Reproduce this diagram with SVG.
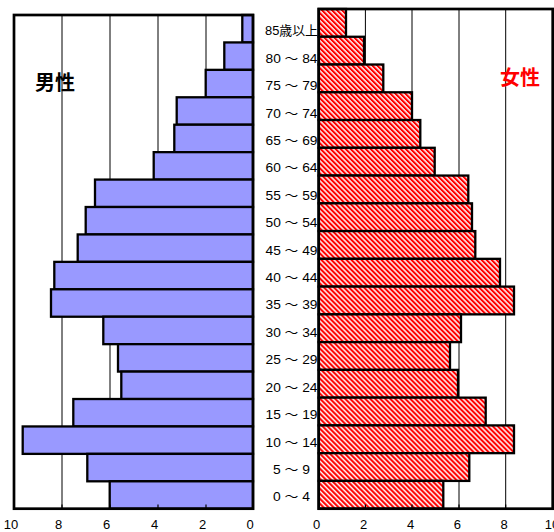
<svg xmlns="http://www.w3.org/2000/svg" width="554" height="532" viewBox="0 0 554 532">
<defs>
<pattern id="stripe" patternUnits="userSpaceOnUse" width="3.54" height="3.54" patternTransform="rotate(-45)">
<rect width="3.54" height="3.54" fill="#fff"/>
<rect width="2.1" height="3.54" fill="#f00"/>
</pattern>
</defs>
<style>
.frame{fill:none;stroke:#000;stroke-width:2.7}
.grid{stroke:#000;stroke-width:1}
.tick{stroke:#000;stroke-width:1.2}
.m{fill:#9999ff;stroke:#000;stroke-width:2.3}
.f{fill:url(#stripe);stroke:#000;stroke-width:2.3}
.lab{font-family:"Liberation Sans","Noto Sans CJK JP",sans-serif;font-size:13px;fill:#000;text-anchor:middle}
.ttl{font-family:"Noto Sans CJK JP",sans-serif;font-size:20px;font-weight:bold;text-anchor:middle}
</style>
<rect width="554" height="532" fill="#fff"/>
<g id="grid">
<line class="grid" x1="62" y1="15" x2="62" y2="508.7"/>
<line class="grid" x1="110" y1="15" x2="110" y2="508.7"/>
<line class="grid" x1="158" y1="15" x2="158" y2="508.7"/>
<line class="grid" x1="206" y1="15" x2="206" y2="508.7"/>
<line class="grid" x1="365.4" y1="9" x2="365.4" y2="508.7"/>
<line class="grid" x1="412" y1="9" x2="412" y2="508.7"/>
<line class="grid" x1="459" y1="9" x2="459" y2="508.7"/>
<line class="grid" x1="505.7" y1="9" x2="505.7" y2="508.7"/>
</g>
<g id="age-labels" class="lab">
<text x="291.5" y="35.2" textLength="53" lengthAdjust="spacingAndGlyphs">85歳以上</text>
<text x="291.5" y="62.6" textLength="52" lengthAdjust="spacingAndGlyphs">80 ～ 84</text>
<text x="291.5" y="90.0" textLength="52" lengthAdjust="spacingAndGlyphs">75 ～ 79</text>
<text x="291.5" y="117.5" textLength="52" lengthAdjust="spacingAndGlyphs">70 ～ 74</text>
<text x="291.5" y="144.9" textLength="52" lengthAdjust="spacingAndGlyphs">65 ～ 69</text>
<text x="291.5" y="172.3" textLength="52" lengthAdjust="spacingAndGlyphs">60 ～ 64</text>
<text x="291.5" y="199.7" textLength="52" lengthAdjust="spacingAndGlyphs">55 ～ 59</text>
<text x="291.5" y="227.1" textLength="52" lengthAdjust="spacingAndGlyphs">50 ～ 54</text>
<text x="291.5" y="254.5" textLength="52" lengthAdjust="spacingAndGlyphs">45 ～ 49</text>
<text x="291.5" y="282.0" textLength="52" lengthAdjust="spacingAndGlyphs">40 ～ 44</text>
<text x="291.5" y="309.4" textLength="52" lengthAdjust="spacingAndGlyphs">35 ～ 39</text>
<text x="291.5" y="336.8" textLength="52" lengthAdjust="spacingAndGlyphs">30 ～ 34</text>
<text x="291.5" y="364.2" textLength="52" lengthAdjust="spacingAndGlyphs">25 ～ 29</text>
<text x="291.5" y="391.6" textLength="52" lengthAdjust="spacingAndGlyphs">20 ～ 24</text>
<text x="291.5" y="419.1" textLength="52" lengthAdjust="spacingAndGlyphs">15 ～ 19</text>
<text x="291.5" y="446.5" textLength="52" lengthAdjust="spacingAndGlyphs">10 ～ 14</text>
<text x="291.5" y="473.9" textLength="37" lengthAdjust="spacingAndGlyphs">5 ～ 9</text>
<text x="291.5" y="501.3" textLength="37" lengthAdjust="spacingAndGlyphs">0 ～ 4</text>
</g>
<g id="male-bars">
<rect class="m" x="242.3" y="15" width="10.7" height="27.43"/>
<rect class="m" x="224.3" y="42.43" width="28.7" height="27.43"/>
<rect class="m" x="205.7" y="69.86" width="47.3" height="27.43"/>
<rect class="m" x="176.7" y="97.29" width="76.3" height="27.43"/>
<rect class="m" x="174.3" y="124.72" width="78.7" height="27.43"/>
<rect class="m" x="153.7" y="152.15" width="99.3" height="27.43"/>
<rect class="m" x="95" y="179.58" width="158" height="27.43"/>
<rect class="m" x="85.7" y="207.01" width="167.3" height="27.43"/>
<rect class="m" x="77.7" y="234.44" width="175.3" height="27.43"/>
<rect class="m" x="54.3" y="261.87" width="198.7" height="27.43"/>
<rect class="m" x="51" y="289.3" width="202" height="27.43"/>
<rect class="m" x="103.3" y="316.73" width="149.7" height="27.43"/>
<rect class="m" x="118" y="344.16" width="135" height="27.43"/>
<rect class="m" x="121.3" y="371.59" width="131.7" height="27.43"/>
<rect class="m" x="73.3" y="399.02" width="179.7" height="27.43"/>
<rect class="m" x="22.7" y="426.45" width="230.3" height="27.43"/>
<rect class="m" x="87.3" y="453.88" width="165.7" height="27.43"/>
<rect class="m" x="109.7" y="481.31" width="143.3" height="27.43"/>
</g>
<g id="female-bars">
<rect class="f" x="318.7" y="9" width="27.3" height="27.76"/>
<rect class="f" x="318.7" y="36.76" width="45.3" height="27.76"/>
<rect class="f" x="318.7" y="64.52" width="64.6" height="27.76"/>
<rect class="f" x="318.7" y="92.28" width="93.3" height="27.76"/>
<rect class="f" x="318.7" y="120.04" width="101.6" height="27.76"/>
<rect class="f" x="318.7" y="147.8" width="116" height="27.76"/>
<rect class="f" x="318.7" y="175.56" width="149.6" height="27.76"/>
<rect class="f" x="318.7" y="203.32" width="153.3" height="27.76"/>
<rect class="f" x="318.7" y="231.08" width="156.6" height="27.76"/>
<rect class="f" x="318.7" y="258.84" width="181.3" height="27.76"/>
<rect class="f" x="318.7" y="286.6" width="195.3" height="27.76"/>
<rect class="f" x="318.7" y="314.36" width="142.3" height="27.76"/>
<rect class="f" x="318.7" y="342.12" width="131.3" height="27.76"/>
<rect class="f" x="318.7" y="369.88" width="139.3" height="27.76"/>
<rect class="f" x="318.7" y="397.64" width="167" height="27.76"/>
<rect class="f" x="318.7" y="425.4" width="195.3" height="27.76"/>
<rect class="f" x="318.7" y="453.16" width="150.6" height="27.76"/>
<rect class="f" x="318.7" y="480.92" width="124.6" height="27.76"/>
</g>
<g id="frames">
<rect class="frame" x="14" y="15" width="239" height="493.7"/>
<rect class="frame" x="318.7" y="9" width="234" height="499.7"/>
</g>
<g id="ticks">
<line class="tick" x1="62" y1="508.7" x2="62" y2="504.5"/>
<line class="tick" x1="110" y1="508.7" x2="110" y2="504.5"/>
<line class="tick" x1="158" y1="508.7" x2="158" y2="504.5"/>
<line class="tick" x1="206" y1="508.7" x2="206" y2="504.5"/>
<line class="tick" x1="365.4" y1="508.7" x2="365.4" y2="504.5"/>
<line class="tick" x1="412" y1="508.7" x2="412" y2="504.5"/>
<line class="tick" x1="459" y1="508.7" x2="459" y2="504.5"/>
<line class="tick" x1="505.7" y1="508.7" x2="505.7" y2="504.5"/>
</g>
<g id="axis-labels" class="lab">
<text x="11" y="528.5">10</text>
<text x="58.5" y="528.5">8</text>
<text x="106.5" y="528.5">6</text>
<text x="154.5" y="528.5">4</text>
<text x="202.5" y="528.5">2</text>
<text x="250" y="528.5">0</text>
<text x="316.7" y="528.5">0</text>
<text x="363.5" y="528.5">2</text>
<text x="410.5" y="528.5">4</text>
<text x="457.3" y="528.5">6</text>
<text x="504" y="528.5">8</text>
<text x="552" y="528.5">10</text>
</g>
<g id="titles">
<text class="ttl" x="55" y="90.3" fill="#000">男性</text>
<text class="ttl" x="520" y="84.8" fill="#f00">女性</text>
</g>
</svg>
